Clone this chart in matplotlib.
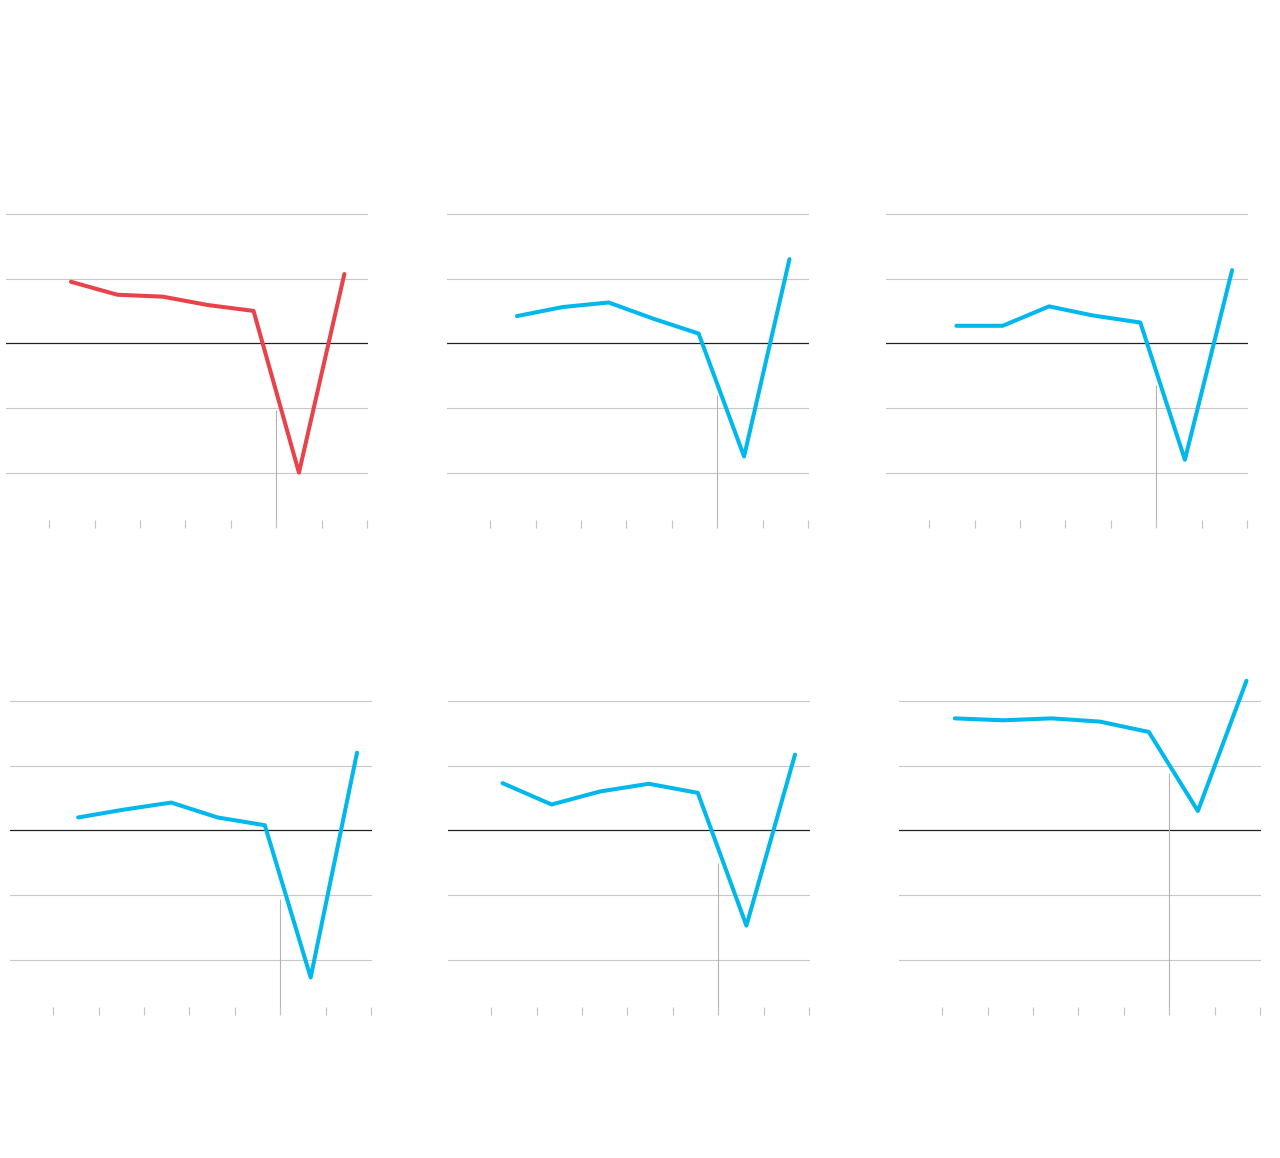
import matplotlib.pyplot as plt
import numpy as np

# x positions (in tick units, ticks at 0..7) and values, one pair per panel
x1 = [0.48, 1.50, 2.50, 3.50, 4.50, 5.50, 6.50]
y1 = [0.95, 0.75, 0.72, 0.59, 0.50, -2.00, 1.07]
x2 = [0.59, 1.60, 2.61, 3.59, 4.59, 5.59, 6.59]
y2 = [0.42, 0.56, 0.63, 0.38, 0.15, -1.75, 1.30]
x3 = [0.60, 1.62, 2.64, 3.60, 4.65, 5.63, 6.67]
y3 = [0.27, 0.27, 0.57, 0.43, 0.32, -1.80, 1.13]
x4 = [0.55, 1.55, 2.60, 3.62, 4.66, 5.67, 6.69]
y4 = [0.20, 0.32, 0.43, 0.20, 0.08, -2.27, 1.20]
x5 = [0.25, 1.33, 2.39, 3.47, 4.55, 5.62, 6.69]
y5 = [0.73, 0.40, 0.60, 0.72, 0.58, -1.47, 1.17]
x6 = [0.28, 1.34, 2.41, 3.47, 4.55, 5.63, 6.70]
y6 = [1.73, 1.70, 1.73, 1.68, 1.52, 0.30, 2.31]

xs = [x1, x2, x3, x4, x5, x6]
ys = [y1, y2, y3, y4, y5, y6]
farbe = ['#e8424a', '#00b8ec', '#00b8ec', '#00b8ec', '#00b8ec', '#00b8ec']
vtop = [-1.03, -0.80, -0.65, -1.06, -0.51, 0.89]   # top end of the marker line
vx = 5

W, H = 1280, 1158
fig = plt.figure(figsize=(W / 100, H / 100), dpi=100)

# panel boxes in pixels: left, top, bottom
lefts = [6, 447, 886, 10, 448, 899]
tops = [175, 175, 175, 662, 662, 662]
bottoms = [527.7, 527.7, 527.7, 1015, 1015, 1015]
sirina = 362
ymin, ymax = -2.85, 2.6

for i in range(6):
    l, t, b = lefts[i], tops[i], bottoms[i]
    ax = fig.add_axes([l / W, 1 - b / H, sirina / W, (b - t) / H])
    ax.set_xlim(-0.95, 7.02)
    ax.set_ylim(ymin, ymax)
    for s in ax.spines.values():
        s.set_visible(False)
    for g in [-2, -1, 1, 2]:
        ax.axhline(g, color='#c8c8c8', lw=0.8, zorder=1)
    ax.axhline(0, color='#222222', lw=0.9, zorder=1)
    ax.vlines(vx, ymin, vtop[i], color='#b4b4b4', lw=0.8, zorder=1)
    ax.set_xticks(np.arange(8))
    ax.set_xticklabels([])
    ax.set_yticks([])
    ax.tick_params(axis='x', direction='in', length=5.5, width=0.8,
                   color='#c4c4c4', bottom=True)
    ax.plot(xs[i], ys[i], color=farbe[i], lw=2.9, solid_capstyle='round',
            clip_on=False, zorder=3)

plt.savefig('out.png', dpi=100, facecolor='white')
